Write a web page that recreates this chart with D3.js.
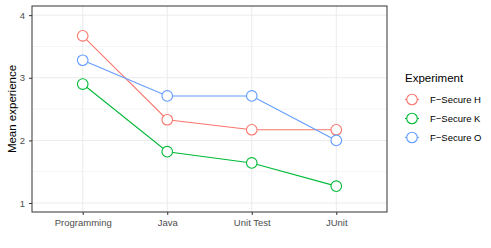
<!DOCTYPE html>
<html lang="en">
<head>
<meta charset="utf-8">
<title>Mean experience</title>
<script src="https://d3js.org/d3.v7.min.js"></script>
<style>
  body { margin: 0; background: #fff; }
  text { font-family: "Liberation Sans", Arial, sans-serif; }
</style>
</head>
<body>
<div id="chart"></div>
<script>

// data
var categories = ["Programming", "Java", "Unit Test", "JUnit"];
var seriesNames = ["F\u2212Secure H", "F\u2212Secure K", "F\u2212Secure O"];
var valuesH = [3.67, 2.33, 2.17, 2.17];
var valuesK = [2.90, 1.82, 1.64, 1.27];
var valuesO = [3.28, 2.71, 2.71, 2.00];
var yTicks = [1, 2, 3, 4];
var colors = ["#F8766D", "#00BA38", "#619CFF"];

var series = [valuesH, valuesK, valuesO].map(function(vals, i) {
  return { name: seriesNames[i], color: colors[i],
    points: vals.map(function(v, j) { return { cat: categories[j], value: v }; }) };
});

var width = 491, height = 248;
var panel = { left: 32, right: 387, top: 6, bottom: 212 };

var svg = d3.select("#chart")
  .append("svg")
  .attr("width", width)
  .attr("height", height);

// scales
var x = d3.scalePoint()
  .domain(categories)
  .range([panel.left, panel.right])
  .padding(0.6);

var y = d3.scaleLinear()
  .domain([0.857, 4.146])
  .range([panel.bottom, panel.top]);

// grid
var grid = svg.append("g");
[1.5, 2.5, 3.5].forEach(function(v) {
  grid.append("line")
    .attr("x1", panel.left).attr("x2", panel.right)
    .attr("y1", y(v)).attr("y2", y(v))
    .attr("stroke", "#EBEBEB").attr("stroke-width", 0.5);
});
yTicks.forEach(function(v) {
  grid.append("line")
    .attr("x1", panel.left).attr("x2", panel.right)
    .attr("y1", y(v)).attr("y2", y(v))
    .attr("stroke", "#EBEBEB").attr("stroke-width", 1);
});
categories.forEach(function(c) {
  grid.append("line")
    .attr("x1", x(c)).attr("x2", x(c))
    .attr("y1", panel.top).attr("y2", panel.bottom)
    .attr("stroke", "#EBEBEB").attr("stroke-width", 1);
});

// axes
var xAxis = svg.append("g")
  .attr("transform", "translate(0," + panel.bottom + ")")
  .call(d3.axisBottom(x).tickSize(3).tickPadding(4));
var yAxis = svg.append("g")
  .attr("transform", "translate(" + panel.left + ",0)")
  .call(d3.axisLeft(y).tickValues(yTicks).tickFormat(d3.format("d")).tickSize(3).tickPadding(4));

[xAxis, yAxis].forEach(function(a) {
  a.select(".domain").remove();
  a.selectAll(".tick line").attr("stroke", "#333333");
  a.selectAll(".tick text")
    .attr("fill", "#4D4D4D")
    .style("font-size", "9.5px")
    .style("font-family", "Liberation Sans, Arial, sans-serif");
});

// panel border
svg.append("rect")
  .attr("x", panel.left).attr("y", panel.top)
  .attr("width", panel.right - panel.left)
  .attr("height", panel.bottom - panel.top)
  .attr("fill", "none")
  .attr("stroke", "#333333")
  .attr("stroke-width", 1);

// axis title
svg.append("text")
  .attr("transform", "translate(12," + ((panel.top + panel.bottom) / 2) + ") rotate(-90)")
  .attr("text-anchor", "middle")
  .attr("dy", "0.35em")
  .style("font-size", "11.5px")
  .text("Mean experience");

// lines
var line = d3.line()
  .x(function(d) { return x(d.cat); })
  .y(function(d) { return y(d.value); });

svg.append("g")
  .selectAll("path")
  .data(series)
  .enter()
  .append("path")
    .attr("d", function(d) { return line(d.points); })
    .attr("fill", "none")
    .attr("stroke", function(d) { return d.color; })
    .attr("stroke-width", 1.1);

// points
series.forEach(function(s) {
  svg.append("g")
    .selectAll("circle")
    .data(s.points)
    .enter()
    .append("circle")
      .attr("cx", function(d) { return x(d.cat); })
      .attr("cy", function(d) { return y(d.value); })
      .attr("r", 5.3)
      .attr("fill", "#fff")
      .attr("stroke", s.color)
      .attr("stroke-width", 1.1);
});

// legend
var legend = svg.append("g");
legend.append("text")
  .attr("x", 405).attr("y", 81.5)
  .style("font-size", "11.5px")
  .text("Experiment");

var keys = legend.selectAll("g.key")
  .data(series)
  .enter()
  .append("g")
    .attr("class", "key")
    .attr("transform", function(d, i) { return "translate(0," + (99.5 + i * 19) + ")"; });

keys.append("line")
  .attr("x1", 405).attr("x2", 419)
  .attr("stroke", function(d) { return d.color; })
  .attr("stroke-width", 1.1);
keys.append("circle")
  .attr("cx", 412).attr("r", 5.3)
  .attr("fill", "#fff")
  .attr("stroke", function(d) { return d.color; })
  .attr("stroke-width", 1.1);
keys.append("text")
  .attr("x", 430).attr("y", 3.4)
  .style("font-size", "9.5px")
  .text(function(d) { return d.name; });

</script>
</body>
</html>
